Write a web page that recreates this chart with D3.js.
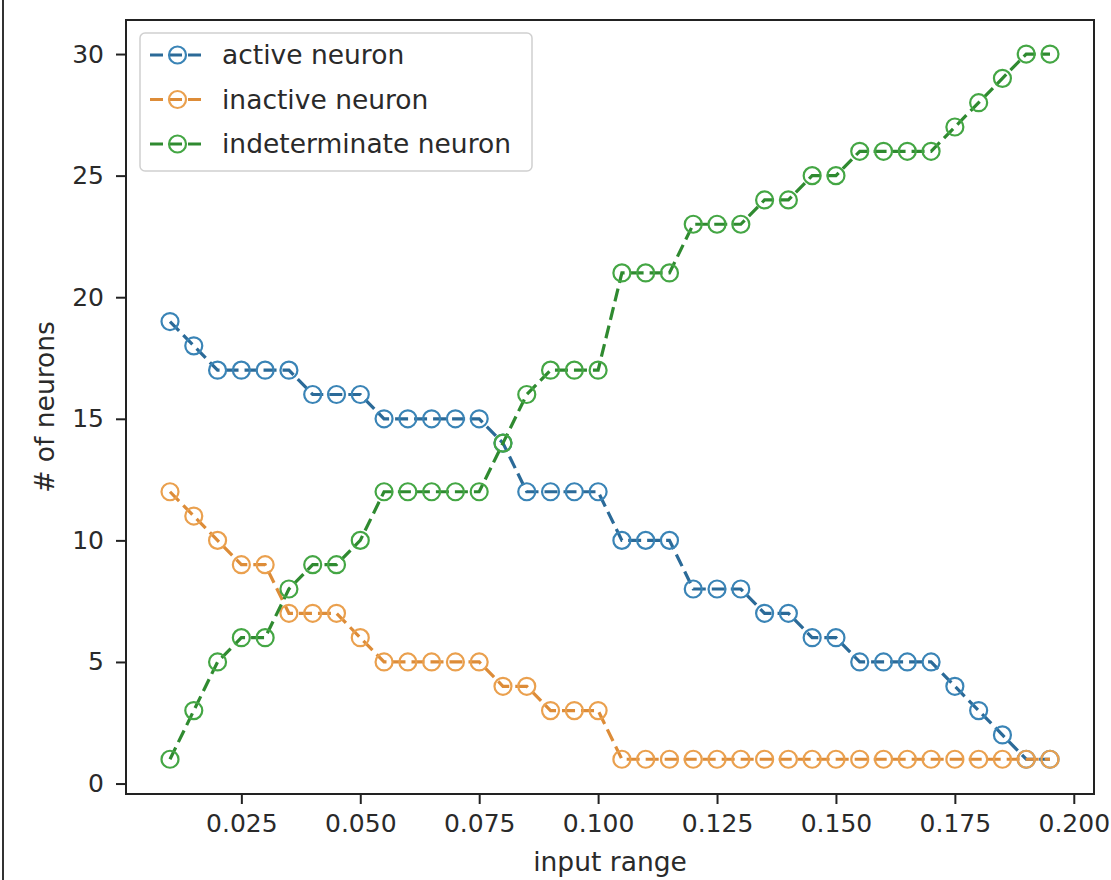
<!DOCTYPE html>
<html>
<head>
<meta charset="utf-8">
<script src="https://cdn.jsdelivr.net/npm/d3@7"></script>
<style>
  html, body { margin: 0; padding: 0; background: #fff; }
  svg { display: block; font-family: "DejaVu Sans", sans-serif; }
</style>
</head>
<body>
<svg id="chart" width="1111" height="880"></svg>
<script>
const inputRange = [0.010,0.015,0.020,0.025,0.030,0.035,0.040,0.045,0.050,0.055,0.060,0.065,0.070,0.075,0.080,0.085,0.090,0.095,0.100,
  0.105,0.110,0.115,0.120,0.125,0.130,0.135,0.140,0.145,0.150,0.155,0.160,0.165,0.170,0.175,0.180,0.185,0.190,0.195];
const activeNeuron = [19,18,17,17,17,17,16,16,16,15,15,15,15,15,14,12,12,12,12,10,10,10,8,8,8,7,7,6,6,5,5,5,5,4,3,2,1,1];
const inactiveNeuron = [12,11,10,9,9,7,7,7,6,5,5,5,5,5,4,4,3,3,3,1,1,1,1,1,1,1,1,1,1,1,1,1,1,1,1,1,1,1];
const indeterminateNeuron = [1,3,5,6,6,8,9,9,10,12,12,12,12,12,14,16,17,17,17,21,21,21,23,23,23,24,24,25,25,26,26,26,26,27,28,29,30,30];
const seriesNames = ["active neuron","inactive neuron","indeterminate neuron"];
const lineColors = ["#2b6a98","#dd8c38","#2f8a30"];
const markerColors = ["#3a84b6","#eaa04e","#44a644"];
const xTicks = [0.025,0.050,0.075,0.100,0.125,0.150,0.175,0.200];
const yTicks = [0,5,10,15,20,25,30];

const seriesData = [activeNeuron, inactiveNeuron, indeterminateNeuron];

const svg = d3.select("#chart");
const L = 126, R = 1094, T = 20, B = 794;

svg.append("line").attr("x1",3).attr("x2",3).attr("y1",0).attr("y2",880)
  .attr("stroke","#333").attr("stroke-width",2);

const x = d3.scaleLinear().domain([0.00075, 0.20425]).range([L, R]);
const y = d3.scaleLinear().domain([-0.43, 31.4]).range([B, T]);

const clipId = "clipPlot";
svg.append("defs").append("clipPath").attr("id", clipId)
  .append("rect").attr("x", L).attr("y", T).attr("width", R-L).attr("height", B-T);

const line = d3.line().x(d => x(d[0])).y(d => y(d[1]));

seriesData.forEach((vals, i) => {
  const pts = inputRange.map((xv, j) => [xv, vals[j]]);
  const g = svg.append("g").attr("clip-path", `url(#${clipId})`);
  g.append("path").datum(pts)
    .attr("d", line)
    .attr("fill","none")
    .attr("stroke", lineColors[i])
    .attr("stroke-width", 3.2)
    .attr("stroke-dasharray","13,6");
  g.selectAll("circle").data(pts).enter().append("circle")
    .attr("cx", d => x(d[0])).attr("cy", d => y(d[1]))
    .attr("r", 8.5)
    .attr("fill","none")
    .attr("stroke", markerColors[i])
    .attr("stroke-width", 2.2);
});

const xAxis = d3.axisBottom(x).tickValues(xTicks).tickFormat(d3.format(".3f")).tickSizeOuter(0).tickSize(10).tickPadding(10);
const yAxis = d3.axisLeft(y).tickValues(yTicks).tickFormat(d3.format("d")).tickSizeOuter(0).tickSize(10).tickPadding(12);

const gx = svg.append("g").attr("transform", `translate(0,${B})`).call(xAxis);
const gy = svg.append("g").attr("transform", `translate(${L},0)`).call(yAxis);
[gx, gy].forEach(g => {
  g.select(".domain").remove();
  g.selectAll(".tick line").attr("stroke","#222").attr("stroke-width",2);
  g.selectAll(".tick text").attr("fill","#2a2a2a").style("font-size","25px")
    .style("font-family","'DejaVu Sans', sans-serif");
});

svg.append("rect").attr("x", L).attr("y", T).attr("width", R-L).attr("height", B-T)
  .attr("fill","none").attr("stroke","#222").attr("stroke-width",2);

svg.append("text").attr("x", (L+R)/2).attr("y", 871).attr("text-anchor","middle")
  .attr("fill","#2a2a2a").style("font-size","26.5px").text("input range");
svg.append("text").attr("transform", `translate(54,${(T+B)/2}) rotate(-90)`)
  .attr("text-anchor","middle").attr("fill","#2a2a2a").style("font-size","26.5px").text("# of neurons");

const lg = svg.append("g");
lg.append("rect").attr("x",140).attr("y",33).attr("width",392).attr("height",138).attr("rx",5)
  .attr("fill","#fff").attr("fill-opacity",0.8).attr("stroke","#d0d0d0").attr("stroke-width",1.5);
seriesNames.forEach((name, i) => {
  const cy = 55 + i*44.5;
  lg.append("line").attr("x1",150).attr("x2",205).attr("y1",cy).attr("y2",cy)
    .attr("stroke", lineColors[i]).attr("stroke-width",3.2).attr("stroke-dasharray","13,6");
  lg.append("circle").attr("cx",177.5).attr("cy",cy).attr("r",8.5)
    .attr("fill","none").attr("stroke", markerColors[i]).attr("stroke-width",2.2);
  lg.append("text").attr("x",222).attr("y",cy).attr("dy","0.35em")
    .attr("fill","#2a2a2a").style("font-size","26.5px").text(name);
});
</script>
</body>
</html>
